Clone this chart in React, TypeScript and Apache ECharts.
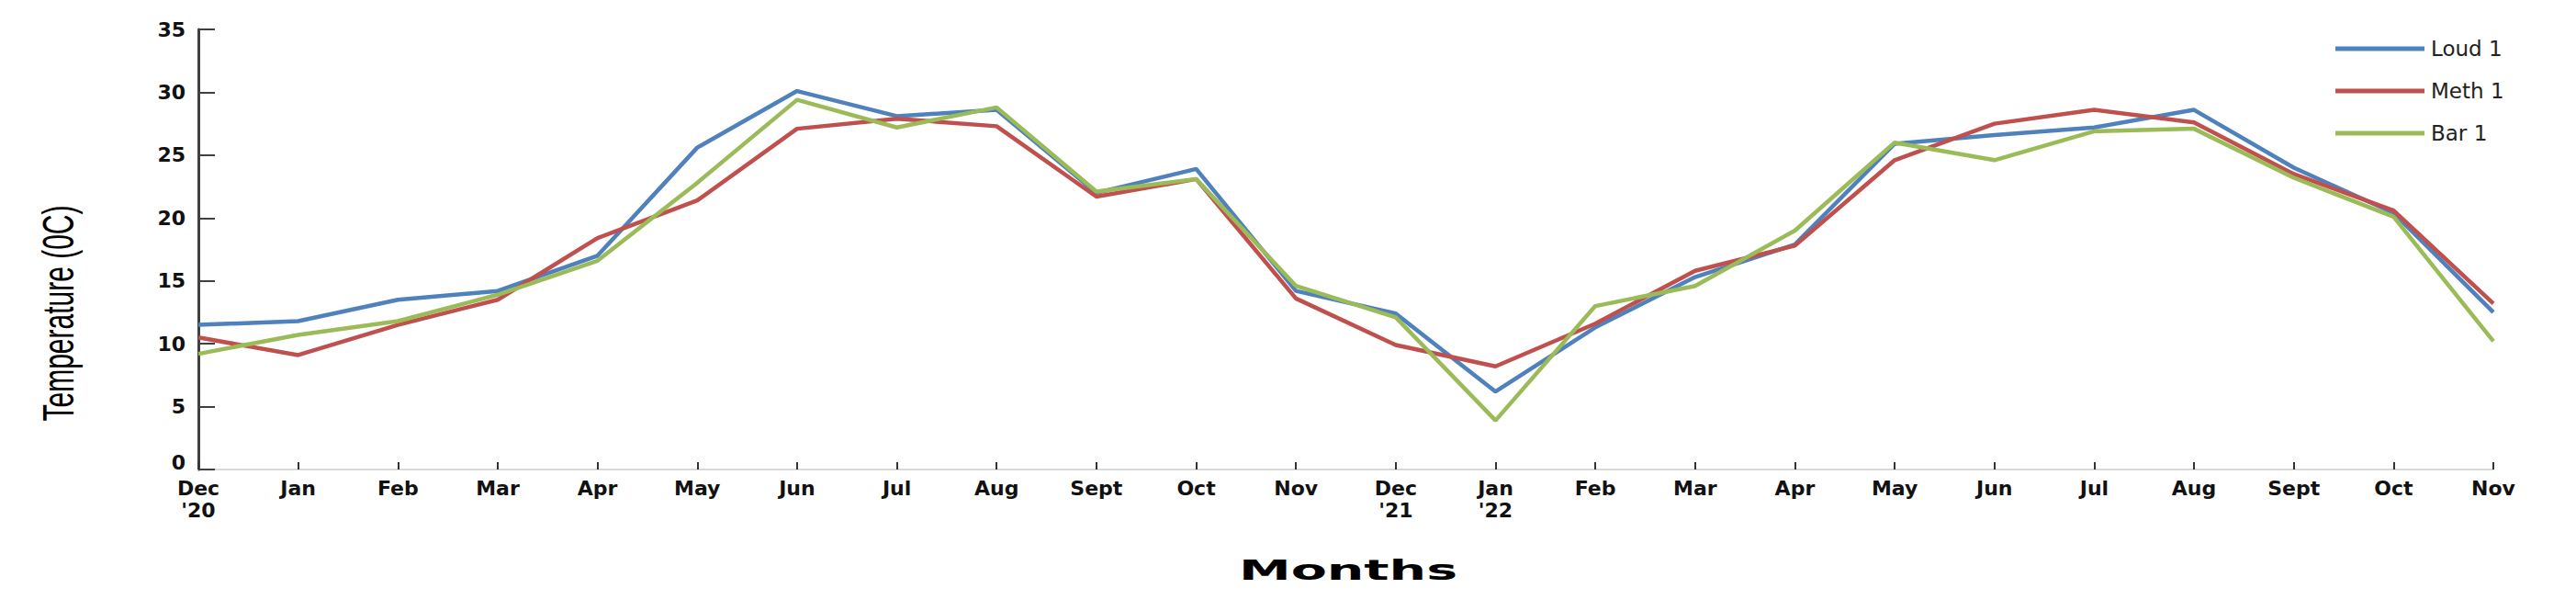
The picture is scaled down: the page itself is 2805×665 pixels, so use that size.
import React, { useEffect, useRef } from "react";
import * as echarts from "echarts";

const months = [
  "Dec\n'20", "Jan", "Feb", "Mar", "Apr", "May", "Jun", "Jul", "Aug", "Sept", "Oct", "Nov",
  "Dec\n'21", "Jan\n'22", "Feb", "Mar", "Apr", "May", "Jun", "Jul", "Aug", "Sept", "Oct", "Nov",
];

const loud1 = [11.5, 11.8, 13.5, 14.2, 17.0, 25.6, 30.1, 28.1, 28.6, 22.0, 23.9, 14.2, 12.4, 6.2, 11.3, 15.3, 17.9, 25.9, 26.6, 27.2, 28.6, 24.0, 20.4, 12.5];
const meth1 = [10.5, 9.1, 11.5, 13.5, 18.4, 21.4, 27.1, 27.9, 27.3, 21.7, 23.1, 13.6, 9.9, 8.2, 11.6, 15.8, 17.8, 24.6, 27.5, 28.6, 27.6, 23.5, 20.6, 13.2];
const bar1 = [9.2, 10.7, 11.8, 13.9, 16.6, 22.8, 29.4, 27.2, 28.8, 22.1, 23.1, 14.6, 12.1, 3.9, 13.0, 14.6, 19.0, 26.0, 24.6, 26.9, 27.1, 23.2, 20.1, 10.2];

const seriesNames = ["Loud 1", "Meth 1", "Bar 1"];
const seriesColors = ["#4F81BD", "#C0504D", "#9BBB59"];

const yTitle = "Temperature (0C)";
const xTitle = "Months";

export default function App() {
  const ref = useRef<HTMLDivElement>(null);

  useEffect(() => {
    if (!ref.current) return;
    const chart = echarts.init(ref.current, null, { renderer: "svg" });
    const values = [loud1, meth1, bar1];
    chart.setOption({
      animation: false,
      backgroundColor: "#ffffff",
      grid: { left: 216, right: 90, top: 32, bottom: 154, containLabel: false },
      legend: {
        orient: "vertical",
        left: 2538,
        top: 36,
        icon: "rect",
        itemWidth: 97,
        itemHeight: 5,
        itemGap: 22,
        data: seriesNames,
        textStyle: {
          fontFamily: "DejaVu Sans",
          fontSize: 23,
          lineHeight: 24,
          color: "#222222",
          padding: [0, 0, 0, 2],
        },
      },
      xAxis: {
        type: "category",
        boundaryGap: false,
        data: months,
        axisLine: { show: true, lineStyle: { color: "#d9d9d9", width: 2 } },
        axisTick: {
          show: true,
          inside: true,
          length: 8,
          alignWithLabel: true,
          lineStyle: { color: "#333333", width: 2 },
        },
        axisLabel: {
          interval: 0,
          margin: 8,
          fontFamily: "DejaVu Sans",
          fontWeight: "bold",
          fontSize: 22,
          lineHeight: 24,
          color: "#111111",
          align: "center",
        },
        splitLine: { show: false },
      },
      yAxis: {
        type: "value",
        min: 0,
        max: 35,
        interval: 5,
        axisLine: { show: true, lineStyle: { color: "#404040", width: 3 } },
        axisTick: { show: true, inside: true, length: 18, lineStyle: { color: "#404040", width: 2 } },
        axisLabel: {
          margin: 14,
          fontFamily: "DejaVu Sans",
          fontWeight: "bold",
          fontSize: 22,
          color: "#111111",
          formatter: (v: number) => (v === 0 ? "{z|0}" : String(v)),
          rich: {
            z: {
              fontFamily: "DejaVu Sans",
              fontWeight: "bold",
              fontSize: 22,
              color: "#111111",
              padding: [0, 0, 16, 0],
            },
          },
        },
        splitLine: { show: false },
      },
      graphic: [
        {
          type: "text",
          x: 63,
          y: 341,
          rotation: Math.PI / 2,
          scaleY: 1.6,
          style: {
            text: yTitle,
            fontFamily: "Liberation Sans",
            fontSize: 30,
            fill: "#000000",
            align: "center",
            verticalAlign: "middle",
          },
        },
        {
          type: "text",
          x: 1468,
          y: 621,
          scaleX: 1.9,
          style: {
            text: xTitle,
            fontFamily: "DejaVu Sans",
            fontWeight: "bold",
            fontSize: 30,
            fill: "#000000",
            align: "center",
            verticalAlign: "middle",
          },
        },
      ],
      series: seriesNames.map((name, i) => ({
        name,
        type: "line",
        data: values[i],
        symbol: "none",
        smooth: false,
        lineStyle: { color: seriesColors[i], width: 4.5 },
        itemStyle: { color: seriesColors[i] },
      })),
    });
    return () => chart.dispose();
  }, []);

  return (
    <div
      ref={ref}
      style={{ position: "absolute", left: 0, top: 0, width: 2805, height: 665, background: "#fff" }}
    />
  );
}
